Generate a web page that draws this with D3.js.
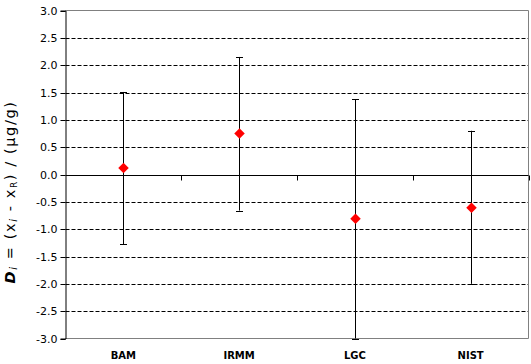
<!DOCTYPE html>
<html><head><meta charset="utf-8">
<script src="https://cdn.jsdelivr.net/npm/d3@7"></script>
<style>body{margin:0;background:#fff}svg{display:block}text{font-family:"DejaVu Sans",Verdana,sans-serif}</style>
</head><body><svg id="c" width="531" height="364"></svg>
<script>
const categories = ["BAM","IRMM","LGC","NIST"];
const values = [0.12, 0.75, -0.81, -0.61];
const upper = [1.51, 2.15, 1.38, 0.80];
const lower = [-1.28, -0.66, -3.0, -2.0];
const yTicks = [3.0,2.5,2.0,1.5,1.0,0.5,0.0,-0.5,-1.0,-1.5,-2.0,-2.5,-3.0];

const svg = d3.select("#c");
const L=65.5, R=528.5, T=10.5, B=338.5;
const x = d3.scaleBand().domain(categories).range([L,R]);
const y = d3.scaleLinear().domain([-3,3]).range([B,T]);

// gridlines
svg.append("g").selectAll("line").data(yTicks.filter(d=>d!==0 && d!==3 && d!==-3)).join("line")
  .attr("x1",L).attr("x2",R).attr("y1",d=>Math.round(y(d))+0.5).attr("y2",d=>Math.round(y(d))+0.5)
  .attr("stroke","#000").attr("stroke-dasharray","4,2");

// border (grey)
svg.append("path").attr("d",`M${L},${T}H${R}V${B}H${L}`).attr("fill","none").attr("stroke","#808080");

// y axis
const ya = d3.axisLeft(y).tickValues(yTicks).tickFormat(d3.format(".1f")).tickSize(5).tickPadding(3);
const gy = svg.append("g").attr("transform",`translate(${L},0)`).call(ya);
gy.select(".domain").attr("stroke","#000");
gy.selectAll(".tick line").attr("stroke","#000");
gy.selectAll(".tick").attr("transform",d=>`translate(0,${Math.round(y(d))+0.5})`);
gy.selectAll("text").attr("font-size",11).attr("fill","#000").attr("font-family","DejaVu Sans, Verdana, sans-serif")
  .text(d=>d3.format(".1f")(d).replace("−","-"));

// zero line with category boundary ticks
const y0 = Math.round(y(0))+0.5;
svg.append("line").attr("x1",L).attr("x2",R).attr("y1",y0).attr("y2",y0).attr("stroke","#000");
const bounds = categories.map(c=>x(c)).concat([R]);
svg.append("g").selectAll("line").data(bounds.slice(1)).join("line")
  .attr("x1",d=>Math.round(d)+0.5).attr("x2",d=>Math.round(d)+0.5).attr("y1",y0).attr("y2",y0+5).attr("stroke","#000");

// category labels
svg.append("g").selectAll("text").data(categories).join("text")
  .attr("x",d=>x(d)+x.bandwidth()/2).attr("y",359).attr("text-anchor","middle")
  .attr("font-size",10).attr("font-weight","bold").text(d=>d);

// error bars
const eb = svg.append("g").selectAll("g").data(categories).join("g");
const cx = c=>Math.round(x(c)+x.bandwidth()/2)+0.5;
eb.append("line").attr("x1",cx).attr("x2",cx).attr("y1",(c,i)=>y(upper[i])).attr("y2",(c,i)=>y(lower[i])).attr("stroke","#000");
eb.append("line").attr("x1",c=>cx(c)-3.5).attr("x2",c=>cx(c)+3.5).attr("y1",(c,i)=>Math.round(y(upper[i]))+0.5).attr("y2",(c,i)=>Math.round(y(upper[i]))+0.5).attr("stroke","#000");
eb.append("line").attr("x1",c=>cx(c)-3.5).attr("x2",c=>cx(c)+3.5).attr("y1",(c,i)=>Math.round(y(lower[i]))+0.5).attr("y2",(c,i)=>Math.round(y(lower[i]))+0.5).attr("stroke","#000");

// points
svg.append("g").selectAll("path").data(categories).join("path")
  .attr("d",d3.symbol(d3.symbolDiamond2,70))
  .attr("transform",(c,i)=>`translate(${cx(c)},${y(values[i])})`)
  .attr("fill","#ff0000");

// y label
const lab = svg.append("text").attr("transform","translate(15,192) rotate(-90)").attr("text-anchor","middle")
  .attr("font-size",14.5).attr("letter-spacing",1.6);
lab.append("tspan").attr("font-style","italic").attr("font-weight","bold").text("D");
lab.append("tspan").attr("font-style","italic").attr("font-size",10).attr("dy",2).text("i");
lab.append("tspan").attr("dy",-2).text(" = (x");
lab.append("tspan").attr("font-style","italic").attr("font-size",10).attr("dy",2).text("i");
lab.append("tspan").attr("dy",-2).text(" - x");
lab.append("tspan").attr("font-size",9).attr("dy",2).text("R");
lab.append("tspan").attr("dy",-2).text(") / (µg/g)");
</script></body></html>
